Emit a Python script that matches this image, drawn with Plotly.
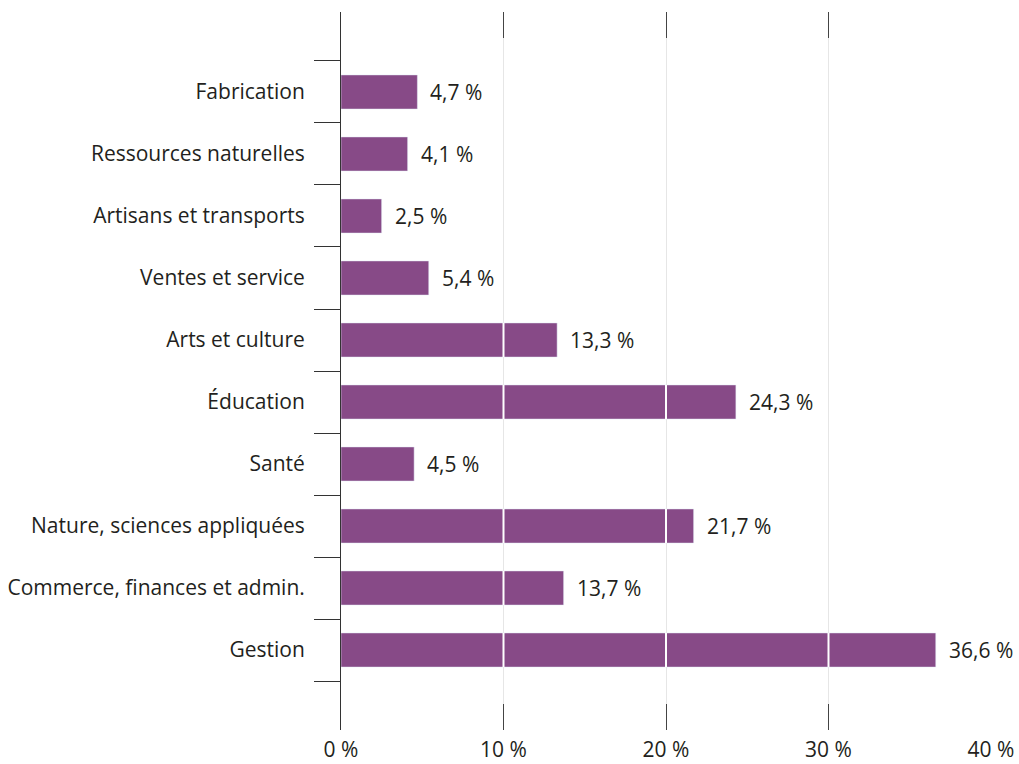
import plotly.graph_objects as go

# Share of workers by occupational group (%), listed bottom to top
categories = [
    "Gestion",
    "Commerce, finances et admin.",
    "Nature, sciences appliquées",
    "Santé",
    "Éducation",
    "Arts et culture",
    "Ventes et service",
    "Artisans et transports",
    "Ressources naturelles",
    "Fabrication",
]
values = [36.6, 13.7, 21.7, 4.5, 24.3, 13.3, 5.4, 2.5, 4.1, 4.7]
x_ticks = [0, 10, 20, 30, 40]

BAR_COLOR = "#874A87"
TEXT_COLOR = "#231F20"
FONT = "Open Sans"
FONT_SIZE = 21
BAR_WIDTH = 0.55


def fr_pct(v, decimals=1):
    return f"{v:.{decimals}f}".replace(".", ",") + " %"


fig = go.Figure()

fig.add_trace(go.Bar(
    x=values, y=categories, orientation="h",
    marker=dict(color=BAR_COLOR, line=dict(width=0)),
    width=BAR_WIDTH, hoverinfo="skip", showlegend=False,
))
# transparent copy so the top axis (tick marks only) gets drawn
fig.add_trace(go.Bar(
    x=values, y=categories, orientation="h", xaxis="x2",
    marker=dict(color="rgba(0,0,0,0)"), width=BAR_WIDTH,
    hoverinfo="skip", showlegend=False,
))

# value labels to the right of each bar
for cat, v in zip(categories, values):
    fig.add_annotation(
        x=v, y=cat, text=fr_pct(v), showarrow=False,
        xanchor="left", yanchor="middle", xshift=11,
        font=dict(family=FONT, size=FONT_SIZE, color=TEXT_COLOR),
    )

# white gridline segments across the bars
shapes = []
for i, v in enumerate(values):
    for g in x_ticks[1:]:
        if g < v:
            shapes.append(dict(
                type="line", xref="x", yref="y", layer="above",
                x0=g, x1=g, y0=i - BAR_WIDTH / 2, y1=i + BAR_WIDTH / 2,
                line=dict(color="white", width=2),
            ))

tick_text = [fr_pct(t, 0) for t in x_ticks]

fig.update_layout(
    width=1019, height=764,
    margin=dict(l=341, r=28, t=12, b=34),
    paper_bgcolor="white", plot_bgcolor="white",
    font=dict(family=FONT, size=FONT_SIZE, color=TEXT_COLOR),
    shapes=shapes,
    xaxis=dict(
        range=[0, 40], tickvals=x_ticks, ticktext=tick_text,
        showgrid=True, gridcolor="#e6e6e6", gridwidth=1,
        ticks="inside", ticklen=26, tickwidth=1, tickcolor="#444",
        showline=False, zeroline=False, ticklabelstandoff=5,
        automargin=False,
        tickfont=dict(family=FONT, size=FONT_SIZE, color=TEXT_COLOR),
        fixedrange=True,
    ),
    xaxis2=dict(
        range=[0, 40], tickvals=x_ticks, overlaying="x", side="top",
        anchor="y", matches="x", showticklabels=False, showgrid=False,
        ticks="inside", ticklen=26, tickwidth=1, tickcolor="#444",
        showline=False, zeroline=False, automargin=False,
    ),
    yaxis=dict(
        type="category", range=[-1.29, 10.29],
        tickson="boundaries", ticks="outside", ticklen=26, tickwidth=1,
        tickcolor="#333", showline=True, linecolor="#333", linewidth=1,
        showgrid=False, zeroline=False, ticklabelstandoff=31,
        automargin=False,
        tickfont=dict(family=FONT, size=FONT_SIZE, color=TEXT_COLOR),
        fixedrange=True,
    ),
)

fig.write_html("out.html")
